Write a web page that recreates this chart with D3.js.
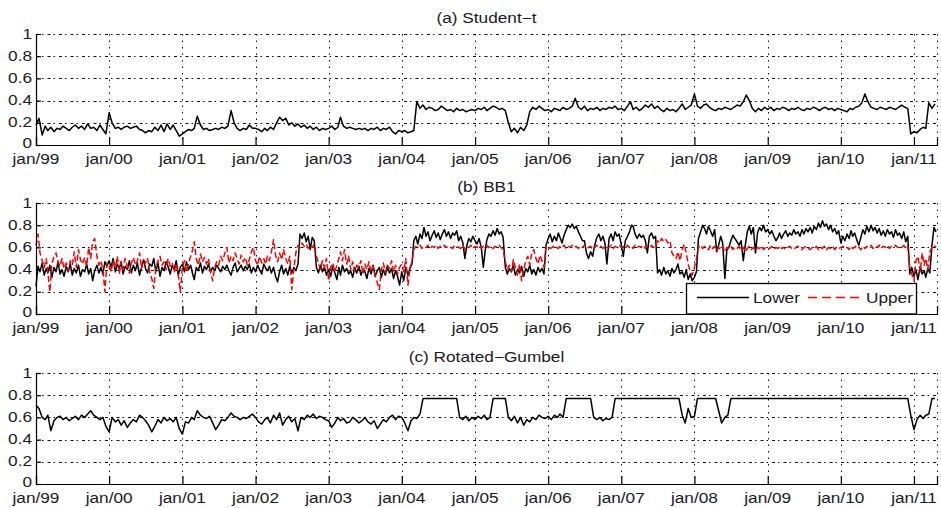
<!DOCTYPE html>
<html>
<head>
<meta charset="utf-8">
<script src="https://cdn.jsdelivr.net/npm/d3@7"></script>
<style>
  html, body { margin: 0; padding: 0; background: #fff; }
  svg { display: block; }
  text { font-family: "Liberation Sans", Arial, Helvetica, sans-serif; font-size: 14px; fill: #1a1a24; }
</style>
</head>
<body>
<svg id="chart" width="941" height="508"></svg>
<script>
// ---- data -------------------------------------------------------------
// Student-t dependence, two readings per month (1st and 16th), one row per year 1999..2011
const studentT = [
  [.18,.24,.09,.17,.13,.16,.12,.15,.14,.17,.15,.13,.16,.18,.15,.17,.14,.19,.15,.16,.13,.18,.14,.1],
  [.29,.2,.15,.16,.14,.16,.17,.15,.16,.17,.14,.13,.11,.13,.12,.16,.13,.18,.12,.19,.14,.18,.13,.08],
  [.1,.12,.14,.13,.15,.26,.18,.14,.15,.13,.14,.15,.14,.16,.15,.17,.31,.2,.15,.13,.15,.14,.18,.15],
  [.15,.14,.12,.15,.13,.16,.14,.2,.25,.22,.24,.18,.2,.17,.19,.16,.18,.15,.17,.14,.16,.13,.15,.14],
  [.15,.17,.14,.16,.25,.17,.15,.16,.15,.14,.15,.14,.15,.13,.15,.14,.16,.13,.15,.14,.16,.12,.1,.13],
  [.12,.13,.11,.12,.13,.39,.33,.36,.32,.34,.33,.31,.32,.35,.33,.31,.32,.3,.33,.31,.32,.3,.31,.32],
  [.31,.33,.32,.34,.31,.33,.35,.34,.32,.33,.31,.2,.12,.15,.11,.16,.13,.18,.3,.34,.32,.35,.33,.31],
  [.32,.3,.33,.32,.31,.34,.32,.33,.35,.42,.34,.32,.35,.31,.33,.32,.34,.31,.33,.32,.34,.33,.35,.32],
  [.33,.31,.35,.39,.32,.34,.31,.33,.36,.34,.37,.33,.35,.32,.3,.33,.31,.32,.3,.33,.37,.32,.34,.36],
  [.46,.35,.33,.36,.37,.34,.32,.31,.33,.32,.34,.33,.32,.34,.36,.35,.39,.45,.4,.33,.3,.33,.31,.34],
  [.32,.34,.31,.33,.32,.34,.33,.31,.33,.32,.34,.32,.31,.33,.32,.34,.33,.31,.33,.34,.32,.33,.31,.33],
  [.32,.31,.3,.33,.32,.34,.35,.38,.46,.39,.34,.33,.32,.34,.33,.32,.34,.33,.32,.34,.36,.34,.33,.1],
  [.12,.11,.14,.16,.15,.38,.33,.37]
];

// BB1 lower and upper tail dependence, three readings per month (1st, 11th, 21st)
const bb1Lower = [
  [.25,.43,.38,.46,.35,.41,.37,.44,.33,.42,.38,.47,.36,.40,.34,.43,.38,.45,.35,.41,.37,.44,.34,.40,.38,.45,.36,.41,.30,.39,.44,.37,.42,.36,.47,.43],
  [.48,.42,.50,.38,.45,.41,.47,.36,.43,.40,.48,.37,.44,.39,.46,.35,.42,.49,.41,.37,.45,.43,.50,.38,.46,.34,.42,.39,.47,.43,.36,.44,.40,.48,.35,.42],
  [.45,.38,.47,.40,.44,.36,.31,.42,.39,.46,.37,.43,.40,.45,.38,.42,.39,.44,.41,.38,.43,.40,.44,.39,.35,.42,.46,.38,.41,.44,.39,.43,.40,.45,.37,.42],
  [.38,.44,.40,.36,.45,.41,.39,.43,.37,.42,.34,.29,.38,.44,.36,.41,.35,.43,.37,.42,.39,.45,.72,.68,.73,.65,.70,.58,.69,.66,.42,.37,.44,.38,.42,.35],
  [.40,.34,.43,.37,.31,.42,.35,.44,.38,.41,.36,.39,.33,.42,.37,.43,.35,.40,.38,.32,.41,.36,.44,.34,.39,.42,.33,.40,.35,.43,.37,.41,.32,.39,.34,.26],
  [.38,.30,.42,.35,.41,.45,.66,.70,.63,.72,.68,.78,.70,.74,.66,.71,.75,.69,.73,.67,.72,.76,.70,.74,.68,.73,.71,.75,.66,.70,.64,.50,.62,.68,.65,.70],
  [.66,.63,.68,.60,.42,.58,.67,.72,.70,.75,.71,.77,.72,.74,.69,.42,.36,.41,.38,.44,.35,.40,.37,.43,.34,.41,.38,.44,.36,.40,.35,.42,.38,.41,.36,.62],
  [.68,.72,.65,.70,.66,.73,.69,.64,.71,.76,.80,.78,.81,.77,.79,.74,.70,.66,.66,.55,.50,.56,.52,.62,.69,.72,.66,.70,.64,.45,.68,.72,.66,.74,.70,.72],
  [.62,.52,.66,.70,.74,.80,.79,.72,.68,.72,.69,.71,.66,.55,.70,.73,.68,.70,.37,.40,.35,.42,.36,.39,.34,.41,.37,.40,.45,.36,.38,.33,.40,.31,.36,.30],
  [.33,.38,.68,.74,.80,.77,.72,.79,.75,.70,.76,.56,.62,.70,.64,.32,.58,.60,.66,.71,.68,.65,.62,.66,.48,.62,.74,.79,.72,.78,.55,.73,.78,.75,.80,.74],
  [.76,.72,.75,.70,.66,.69,.73,.68,.72,.75,.70,.73,.71,.76,.72,.74,.70,.76,.72,.77,.74,.78,.73,.79,.76,.82,.78,.84,.79,.81,.76,.80,.74,.77,.72,.75],
  [.64,.70,.66,.72,.68,.75,.70,.73,.67,.62,.69,.76,.72,.79,.74,.80,.75,.78,.73,.77,.71,.75,.70,.76,.72,.74,.69,.76,.71,.73,.68,.74,.65,.70,.36,.42],
  [.34,.40,.31,.43,.36,.39,.33,.41,.37,.62,.78,.74]
];

const bb1Upper = [
  [.62,.72,.55,.48,.42,.50,.38,.20,.45,.52,.55,.47,.43,.50,.41,.46,.39,.48,.44,.56,.42,.58,.49,.45,.51,.43,.60,.50,.65,.68,.52,.44,.48,.40,.20,.46],
  [.44,.38,.48,.42,.52,.36,.47,.40,.50,.43,.37,.46,.51,.44,.48,.55,.41,.49,.46,.50,.38,.32,.23,.41,.48,.52,.44,.47,.40,.50,.43,.46,.38,.45,.36,.20],
  [.42,.48,.38,.46,.52,.58,.65,.50,.44,.54,.47,.51,.45,.50,.38,.30,.42,.47,.44,.52,.48,.55,.60,.46,.52,.48,.55,.50,.45,.53,.47,.51,.44,.49,.56,.60],
  [.48,.44,.52,.46,.50,.45,.52,.48,.56,.67,.53,.47,.55,.49,.58,.50,.45,.52,.22,.40,.55,.62,.60,.64,.61,.63,.59,.62,.60,.63,.52,.46,.40,.48,.42,.50],
  [.30,.42,.46,.38,.44,.50,.56,.48,.58,.45,.52,.40,.47,.38,.44,.42,.48,.36,.45,.40,.47,.38,.43,.35,.28,.22,.40,.46,.37,.44,.41,.48,.38,.44,.36,.42],
  [.45,.38,.50,.26,.42,.47,.58,.61,.60,.62,.59,.61,.60,.62,.59,.61,.60,.62,.59,.61,.60,.62,.60,.61,.60,.59,.62,.61,.60,.59,.62,.58,.61,.60,.62,.59],
  [.61,.60,.62,.59,.61,.60,.62,.60,.61,.59,.61,.60,.62,.60,.58,.47,.40,.44,.38,.49,.42,.35,.45,.30,.40,.48,.52,.44,.55,.58,.50,.45,.53,.48,.42,.60],
  [.61,.59,.60,.62,.60,.59,.61,.60,.62,.59,.61,.60,.62,.60,.61,.59,.61,.60,.62,.59,.60,.61,.58,.60,.62,.60,.61,.59,.61,.60,.60,.62,.59,.61,.60,.62],
  [.60,.61,.59,.62,.60,.61,.59,.62,.60,.61,.60,.62,.59,.61,.60,.62,.60,.61,.66,.64,.68,.65,.67,.64,.66,.55,.52,.50,.56,.48,.58,.63,.55,.45,.38,.35],
  [.42,.50,.60,.62,.59,.61,.60,.58,.62,.59,.61,.57,.60,.58,.61,.56,.60,.59,.61,.58,.60,.59,.61,.57,.60,.56,.59,.61,.58,.60,.57,.60,.59,.61,.58,.60],
  [.60,.59,.61,.58,.60,.59,.61,.59,.60,.58,.60,.61,.59,.58,.60,.61,.59,.58,.60,.61,.59,.58,.60,.59,.61,.58,.60,.59,.61,.58,.60,.59,.61,.58,.60,.59],
  [.60,.61,.59,.60,.58,.61,.59,.60,.62,.60,.58,.61,.59,.61,.60,.62,.59,.61,.60,.62,.59,.61,.60,.62,.59,.61,.60,.62,.60,.61,.60,.62,.59,.61,.42,.36],
  [.30,.48,.52,.38,.55,.44,.50,.40,.56,.60,.62,.60]
];

// Rotated-Gumbel dependence, two readings per month
const rotGumbel = [
  [.71,.68,.6,.58,.62,.48,.57,.6,.61,.58,.6,.57,.59,.61,.58,.62,.6,.63,.66,.62,.6,.58,.6,.52],
  [.47,.6,.56,.58,.53,.57,.51,.55,.58,.56,.62,.6,.57,.53,.47,.52,.58,.55,.6,.57,.59,.56,.6,.5],
  [.45,.56,.55,.6,.58,.66,.62,.6,.59,.61,.55,.49,.53,.58,.57,.6,.64,.61,.6,.58,.6,.59,.61,.63],
  [.6,.56,.54,.58,.6,.55,.62,.58,.64,.53,.58,.61,.56,.59,.48,.6,.58,.62,.6,.63,.59,.61,.6,.58],
  [.57,.51,.55,.6,.57,.59,.55,.56,.6,.58,.55,.57,.6,.56,.54,.57,.5,.54,.58,.56,.6,.62,.58,.61],
  [.6,.55,.48,.57,.6,.59,.63,.77,.77,.77,.77,.77,.77,.77,.77,.77,.77,.77,.77,.6,.58,.61,.57,.6],
  [.58,.61,.59,.62,.58,.6,.77,.77,.77,.77,.77,.6,.57,.61,.55,.6,.53,.58,.56,.6,.58,.62,.6,.59],
  [.61,.58,.62,.6,.63,.6,.77,.77,.77,.77,.77,.77,.77,.77,.77,.6,.58,.6,.57,.59,.58,.6,.77,.77],
  [.77,.77,.77,.77,.77,.77,.77,.77,.77,.77,.77,.77,.77,.77,.77,.77,.77,.77,.77,.77,.62,.55,.68,.6],
  [.61,.77,.77,.77,.77,.77,.77,.77,.66,.55,.6,.62,.77,.77,.77,.77,.77,.77,.77,.77,.77,.77,.77,.77],
  [.77,.77,.77,.77,.77,.77,.77,.77,.77,.77,.77,.77,.77,.77,.77,.77,.77,.77,.77,.77,.77,.77,.77,.77],
  [.77,.77,.77,.77,.77,.77,.77,.77,.77,.77,.77,.77,.77,.77,.77,.77,.77,.77,.77,.77,.77,.77,.77,.62],
  [.49,.58,.62,.59,.62,.63,.77,.77]
];

const firstYear = 1999;
const yTicks = [0, 0.2, 0.4, 0.6, 0.8, 1];
const panelTitles = ["(a) Student\u2212t", "(b) BB1", "(c) Rotated\u2212Gumbel"];
const legendLabels = ["Lower", "Upper"];

// ---- helpers ----------------------------------------------------------
// Rows are yearly; readingsPerMonth decides the calendar day of each value.
function toSeries(rows, readingsPerMonth) {
  const days = readingsPerMonth === 2 ? [1, 16] : [1, 11, 21];
  const out = [];
  rows.forEach((row, yi) => {
    row.forEach((v, j) => {
      const month = Math.floor(j / readingsPerMonth);
      const day = days[j % readingsPerMonth];
      out.push({ date: new Date(firstYear + yi, month, day), v });
    });
  });
  return out;
}

const svg = d3.select("#chart");
const x = d3.scaleTime()
  .domain([new Date(1999, 0, 1), new Date(2011, 3, 26)])
  .range([36, 937]);
const yearTicks = d3.timeYear.range(new Date(1999, 0, 1), new Date(2011, 1, 1));
const fmtTick = d => d3.timeFormat("%b/%y")(d).toLowerCase();
const stretch = 1.23;

function label(g, str, tx, ty, anchor) {
  return g.append("text")
    .attr("transform", `translate(${tx},${ty}) scale(${stretch},1)`)
    .attr("text-anchor", anchor)
    .text(str);
}

const panelTops = [34, 203, 373];
const panelH = 111;

const panels = [
  { title: panelTitles[0], series: [{ data: toSeries(studentT, 2), color: "#000", dash: null }] },
  { title: panelTitles[1], series: [
      { data: toSeries(bb1Lower, 3), color: "#000", dash: null },
      { data: toSeries(bb1Upper, 3), color: "#ff0000", dash: "6,3" }
    ], legend: true },
  { title: panelTitles[2], series: [{ data: toSeries(rotGumbel, 2), color: "#000", dash: null }] }
];

panels.forEach((p, k) => {
  const top = panelTops[k];
  const bottom = top + panelH;
  const y = d3.scaleLinear().domain([0, 1]).range([bottom, top]);
  const g = svg.append("g");
  const [x0, x1] = x.range();

  // dotted grid
  g.selectAll(".hgrid").data(yTicks.filter(v => v > 0)).join("line")
    .attr("x1", x0).attr("x2", x1)
    .attr("y1", d => Math.round(y(d)) + 0.5).attr("y2", d => Math.round(y(d)) + 0.5)
    .attr("stroke", "#111").attr("stroke-width", 1).attr("stroke-dasharray", "3,3,1.5,4");
  const vgrid = yearTicks.slice(1).map(d => x(d)).concat([x1]);
  g.selectAll(".vgrid").data(vgrid).join("line")
    .attr("x1", d => Math.round(d) + 0.5).attr("x2", d => Math.round(d) + 0.5)
    .attr("y1", top).attr("y2", bottom)
    .attr("stroke", "#111").attr("stroke-width", 1).attr("stroke-dasharray", "1.5,5");

  // series
  const line = d3.line().x(d => x(d.date)).y(d => y(d.v));
  p.series.forEach(s => {
    g.append("path")
      .datum(s.data)
      .attr("d", line)
      .attr("fill", "none")
      .attr("stroke", s.color)
      .attr("stroke-width", 1.5)
      .attr("stroke-linejoin", "round")
      .attr("stroke-dasharray", s.dash);
  });

  // axes (ticks point inward)
  g.append("g")
    .attr("transform", `translate(0,${bottom})`)
    .call(d3.axisBottom(x).tickValues(yearTicks).tickSize(-8).tickSizeOuter(-8).tickFormat(""))
    .call(a => a.selectAll("path,line").attr("stroke", "#000").attr("stroke-width", 1.2));
  g.append("g")
    .attr("transform", `translate(${x0},0)`)
    .call(d3.axisLeft(y).tickValues(yTicks).tickSize(-5).tickSizeOuter(0).tickFormat(""))
    .call(a => a.selectAll("path,line").attr("stroke", "#000").attr("stroke-width", 1.2));

  // tick labels; the zero label sits a little higher so it clears the date labels
  yTicks.forEach(v => label(g, d3.format("")(v), 32, y(v) + (v === 0 ? 2.8 : 4.5), "end"));
  yearTicks.forEach(d => label(g, fmtTick(d), x(d), bottom + 18.8, "middle"));

  // title
  label(g, p.title, (x0 + x1) / 2, top - 11, "middle");

  // legend box
  if (p.legend) {
    const lg = g.append("g");
    lg.append("rect")
      .attr("x", 686.5).attr("y", 283.5).attr("width", 230).attr("height", bottom - 283.5)
      .attr("fill", "#fff").attr("stroke", "#000").attr("stroke-width", 1.3);
    lg.append("line").attr("x1", 697).attr("x2", 749).attr("y1", 297.5).attr("y2", 297.5)
      .attr("stroke", p.series[0].color).attr("stroke-width", 1.4);
    label(lg, legendLabels[0], 753, 302.5, "start");
    lg.append("line").attr("x1", 808).attr("x2", 860).attr("y1", 297.5).attr("y2", 297.5)
      .attr("stroke", p.series[1].color).attr("stroke-width", 1.4).attr("stroke-dasharray", "9,5");
    label(lg, legendLabels[1], 866, 302.5, "start");
  }
});
</script>
</body>
</html>
